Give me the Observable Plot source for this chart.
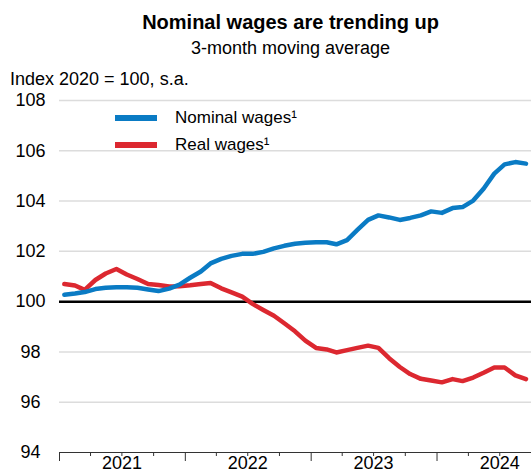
<!DOCTYPE html>
<html>
<head>
<meta charset="utf-8">
<script src="https://cdn.jsdelivr.net/npm/d3@7"></script>
<script src="https://cdn.jsdelivr.net/npm/@observablehq/plot@0.6"></script>
<style>
  html, body { margin: 0; padding: 0; background: #fff; }
  #wrap { position: relative; width: 531px; height: 474px; overflow: hidden; font-family: "Liberation Sans", Arial, sans-serif; color: #000; }
  .abs { position: absolute; white-space: nowrap; }
  #title { left: 50px; width: 481px; top: 12px; text-align: center; font-size: 20px; line-height: 20px; font-weight: bold; }
  #subtitle { left: 50px; width: 481px; top: 39px; text-align: center; font-size: 18px; line-height: 18px; }
  #unit { left: 10px; top: 70px; font-size: 18px; line-height: 18px; }
  #chart { position: absolute; left: 0; top: 88px; }
  .sw { position: absolute; height: 6px; width: 42px; left: 115px; }
  .lg { position: absolute; left: 175px; font-size: 17px; line-height: 17px; }
</style>
</head>
<body>
<div id="wrap">
  <div id="title" class="abs"></div>
  <div id="subtitle" class="abs"></div>
  <div id="unit" class="abs"></div>
  <div id="chart"></div>
  <div id="legend"></div>
</div>
<script>
// ---- data ----
const titleText = "Nominal wages are trending up";
const subtitleText = "3-month moving average";
const unitText = "Index 2020 = 100, s.a.";
const seriesNames = ["Nominal wages¹", "Real wages¹"];
const seriesColors = ["#0a7bc4", "#dc2830"];

const firstMonth = "2021-01-01";
const endMonth = "2024-10-01";

const nominal = [100.27,100.32,100.38,100.50,100.55,100.57,100.57,100.55,100.48,100.42,100.52,100.68,
                 100.95,101.20,101.52,101.70,101.82,101.90,101.90,101.98,102.12,102.22,102.30,102.34,
                 102.36,102.36,102.28,102.45,102.85,103.25,103.43,103.35,103.25,103.33,103.43,103.59,
                 103.53,103.72,103.76,104.02,104.49,105.09,105.46,105.55,105.49];
const real = [100.70,100.64,100.47,100.86,101.12,101.30,101.08,100.90,100.70,100.66,100.60,100.61,
              100.65,100.70,100.74,100.53,100.37,100.20,99.91,99.67,99.44,99.14,98.82,98.45,
              98.16,98.10,97.98,98.07,98.16,98.25,98.16,97.75,97.40,97.12,96.93,96.86,
              96.79,96.92,96.84,96.98,97.17,97.38,97.38,97.07,96.92];

const yTicks = [94, 96, 98, 100, 102, 104, 106, 108];
const baseline = [100];
const yearStarts = ["2021-01-01", "2022-01-01", "2023-01-01", "2024-01-01"];
const quarterTicks = ["2021-04-01","2021-07-01","2021-10-01","2022-04-01","2022-07-01","2022-10-01",
                      "2023-04-01","2023-07-01","2023-10-01","2024-04-01","2024-07-01"];
const yearLabelPos = ["2021-07-01", "2022-07-01", "2023-07-01", "2024-07-01"];
const yearLabels = ["2021", "2022", "2023", "2024"];

// ---- build ----
const parse = s => new Date(s + "T00:00:00Z");
const months = d3.utcMonth.range(parse(firstMonth), parse(endMonth));
const mid = m => d3.utcDay.offset(m, 14);
const nomData = nominal.map((v, i) => ({date: mid(months[i]), value: v}));
const realData = real.map((v, i) => ({date: mid(months[i]), value: v}));

document.getElementById("title").textContent = titleText;
document.getElementById("subtitle").textContent = subtitleText;
document.getElementById("unit").textContent = unitText;

const chart = Plot.plot({
  width: 531,
  height: 386,
  marginTop: 12,
  marginBottom: 22,
  marginLeft: 59,
  marginRight: 0,
  style: {fontFamily: '"Liberation Sans", Arial, sans-serif', fontSize: "18px", overflow: "visible", background: "transparent", color: "#000"},
  x: {type: "utc", domain: [parse(firstMonth), parse(endMonth)]},
  y: {domain: [yTicks[0], yTicks[yTicks.length - 1]], axis: null},
  marks: [
    Plot.gridY(yTicks.slice(1), {stroke: "#dcdcdc", strokeOpacity: 1, strokeWidth: 1.5}),
    Plot.ruleY(baseline, {stroke: "#000", strokeWidth: 2.5}),
    Plot.ruleY([yTicks[0]], {stroke: "#333", strokeWidth: 1}),
    Plot.axisX(yearStarts.map(parse), {tickSize: 9, tickFormat: () => "", stroke: "#333", strokeWidth: 1}),
    Plot.axisX(quarterTicks.map(parse), {tickSize: 4, tickFormat: () => "", stroke: "#333", strokeWidth: 1}),
    Plot.text(yearLabelPos.map(parse), {x: d => d, text: (d, i) => yearLabels[i], frameAnchor: "bottom", lineAnchor: "top", dy: 4, fontSize: 18, fill: "#000"}),
    Plot.text(yTicks, {y: d => d, text: d => String(d), frameAnchor: "left", textAnchor: "middle", dx: -29, fontSize: 18, fill: "#000"}),
    Plot.line(realData, {x: "date", y: "value", stroke: seriesColors[1], strokeWidth: 4.5, strokeLinejoin: "round"}),
    Plot.line(nomData, {x: "date", y: "value", stroke: seriesColors[0], strokeWidth: 4.5, strokeLinejoin: "round"})
  ]
});
document.getElementById("chart").appendChild(chart);

// legend (HTML overlay)
const legend = document.getElementById("legend");
const legendTops = [118, 145];
seriesNames.forEach((name, i) => {
  const sw = document.createElement("div");
  sw.className = "sw";
  sw.style.background = seriesColors[i];
  sw.style.top = (legendTops[i] - 3) + "px";
  legend.appendChild(sw);
  const t = document.createElement("div");
  t.className = "lg";
  t.textContent = name;
  t.style.top = (legendTops[i] - 9) + "px";
  legend.appendChild(t);
});
</script>
</body>
</html>
